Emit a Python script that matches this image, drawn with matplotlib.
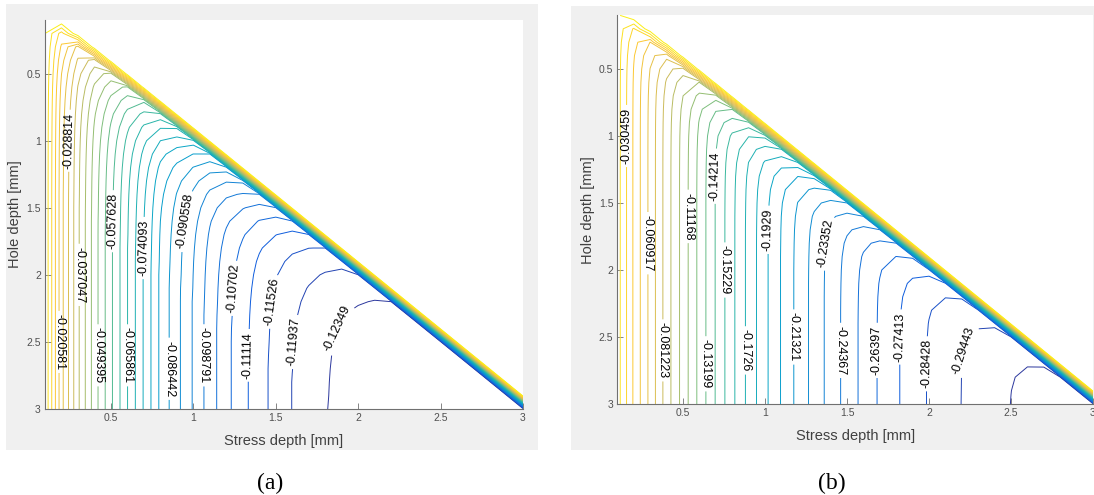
import numpy as np
import matplotlib
matplotlib.use("Agg")
import matplotlib.pyplot as plt
from matplotlib.colors import LinearSegmentedColormap
from matplotlib.patches import Rectangle
from matplotlib.ticker import FormatStrFormatter

plt.rcParams['font.family'] = ['Liberation Sans', 'DejaVu Sans']

# solver grid (mm), same for stress depth and hole depth
depth_nodes = [0.1, 0.2, 0.3, 0.4, 0.5, 0.6, 0.7, 0.8, 0.9, 1.0,
               1.1, 1.2, 1.3, 1.4, 1.5, 1.6, 1.7, 1.8, 1.9, 2.0,
               2.1, 2.2, 2.3, 2.4, 2.5, 2.6, 2.7, 2.8, 2.9, 3.0]
n_levels = 30

# ---- panel (a) ----
step_a = 0.004116285
# value for a deep hole (hole depth 3 mm), per stress depth node
deep_a = [-0.00473, -0.02334, -0.03622, -0.04734, -0.05680, -0.06578, -0.07451, -0.08315, -0.08932, -0.09509,
          -0.10085, -0.10579, -0.10991, -0.11361, -0.11670, -0.11946, -0.12143, -0.12328, -0.12472, -0.12575,
          -0.12645, -0.12690, -0.12719, -0.12736, -0.12748, -0.12754, -0.12758, -0.12761, -0.12761, -0.12761]
# value where hole depth == stress depth
diag_a = [-0.00370, -0.01400, -0.02593, -0.03499, -0.04281, -0.05022, -0.05680, -0.06298, -0.06936, -0.07615,
          -0.08315, -0.08871, -0.09385, -0.09941, -0.10414, -0.10846, -0.11217, -0.11534, -0.11814, -0.12020,
          -0.12225, -0.12369, -0.12501, -0.12596, -0.12653, -0.12695, -0.12719, -0.12736, -0.12748, -0.12752]
# blend from diag to deep, per 0.1 mm below the diagonal
falloff_a = [1.0, 0.67, 0.449, 0.301, 0.202, 0.135, 0.091, 0.061, 0.041, 0.027, 0.018, 0.012]
labels_a = [-0.020581, -0.028814, -0.037047, -0.049395, -0.057628, -0.065861, -0.074093, -0.086442,
            -0.090558, -0.098791, -0.10702, -0.11114, -0.11526, -0.11937, -0.12349]
label_spots_a = [(0.175, 2.5), (0.275, 1.0), (0.33, 1.95), (0.43, 2.6), (0.54, 1.56), (0.59, 2.6),
                 (0.71, 1.85), (0.85, 2.7), (1.0, 1.65), (1.05, 2.58), (1.28, 2.1), (1.33, 2.6),
                 (1.5, 2.24), (1.635, 2.52), (1.9, 2.45)]

# ---- panel (b) ----
step_b = 0.010152855
deep_b = [-0.01574, -0.04213, -0.06396, -0.08630, -0.10559, -0.12488, -0.14285, -0.15991, -0.17565, -0.19037,
          -0.20377, -0.21626, -0.22712, -0.23758, -0.24753, -0.25687, -0.26540, -0.27271, -0.27920, -0.28520,
          -0.28987, -0.29464, -0.29789, -0.30114, -0.30489, -0.30763, -0.30987, -0.31190, -0.31352, -0.31474]
diag_b = [-0.01218, -0.03158, -0.05097, -0.06843, -0.08630, -0.10173, -0.11716, -0.13178, -0.14620, -0.15991,
          -0.17412, -0.18742, -0.20042, -0.21250, -0.22387, -0.23453, -0.24458, -0.25403, -0.26286, -0.27047,
          -0.27727, -0.28327, -0.28844, -0.29311, -0.29687, -0.30012, -0.30378, -0.30682, -0.30916, -0.31129]
falloff_b = [1.0, 0.463, 0.215, 0.099, 0.046, 0.021, 0.01, 0.005]
labels_b = [-0.030459, -0.060917, -0.081223, -0.11168, -0.13199, -0.14214, -0.15229, -0.1726,
            -0.1929, -0.21321, -0.23352, -0.24367, -0.26397, -0.27413, -0.28428, -0.29443]
label_spots_b = [(0.165, 1.0), (0.285, 1.83), (0.375, 2.63), (0.555, 1.64), (0.635, 2.71), (0.77, 1.32),
                 (0.77, 2.0), (0.875, 2.62), (1.08, 1.71), (1.17, 2.5), (1.44, 1.83), (1.46, 2.62),
                 (1.7, 2.62), (1.855, 2.53), (2.01, 2.72), (2.27, 2.62)]

# approximation of MATLAB parula
parula = LinearSegmentedColormap.from_list(
    'parula', ['#352a87', '#0f5cdd', '#1481d6', '#06a4ca', '#2eb7a4',
               '#87bf77', '#d1bb59', '#fec832', '#f9fb0e'])


def build_field(deep, diag, falloff):
    x = np.array(depth_nodes)
    X, Y = np.meshgrid(x, x)
    steps = np.rint((Y - X) / 0.1).astype(int)
    fall = np.zeros(len(x))
    fall[:len(falloff)] = falloff
    w = fall[np.clip(steps, 0, len(x) - 1)]
    deep = np.array(deep)[None, :]
    diag = np.array(diag)[None, :]
    Z = deep + (diag - deep) * w
    Z[steps < 0] = 0.0   # stress depth beyond hole depth
    return X, Y, Z


def draw_panel(ax, deep, diag, falloff, step, labels, spots):
    ax.set_xlim(0.1, 3)
    ax.set_ylim(3, 0.1)

    X, Y, Z = build_field(deep, diag, falloff)
    levels = -step * np.arange(n_levels, 0, -1)
    cs = ax.contour(X, Y, Z, levels=levels, cmap=parula,
                    vmin=-step * (n_levels + 1), vmax=0, linewidths=0.7)

    # snap each label spot onto its own contour, then let clabel place it
    for val, spot in zip(labels, spots):
        k = int(round(-val / step))
        verts = cs.get_paths()[n_levels - k].vertices
        pix = ax.transData.transform(verts)
        target = ax.transData.transform(spot)
        j = np.argmin(((pix - target) ** 2).sum(axis=1))
        cs.clabel(manual=[tuple(verts[j])], fmt=lambda v: f"{v:.5g}",
                  fontsize=9, colors='k', inline_spacing=3)

    ax.set_xticks([0.5, 1, 1.5, 2, 2.5, 3])
    ax.set_yticks([0.5, 1, 1.5, 2, 2.5, 3])
    ax.xaxis.set_major_formatter(FormatStrFormatter('%g'))
    ax.yaxis.set_major_formatter(FormatStrFormatter('%g'))
    for side in ['top', 'right']:
        ax.spines[side].set_visible(False)
    for side in ['left', 'bottom']:
        ax.spines[side].set_color('#707070')
        ax.spines[side].set_linewidth(0.8)
    ax.tick_params(direction='in', length=4, width=0.6, colors='#707070',
                   labelcolor='#505050', labelsize=7.5, pad=3)
    ax.set_xlabel('Stress depth [mm]', fontsize=10.5, color='#404040')
    ax.set_ylabel('Hole depth [mm]', fontsize=10.5, color='#404040')
    ax.xaxis.set_label_coords(0.5, -0.064)
    ax.yaxis.set_label_coords(-0.048, 0.5)


W, H = 1094, 495
fig = plt.figure(figsize=(W / 100, H / 100), dpi=100)
fig.patch.set_facecolor('white')

# grey MATLAB figure backgrounds
fig.patches.append(Rectangle((6 / W, 1 - 450 / H), 532 / W, 446 / H, transform=fig.transFigure,
                             facecolor='#f0f0f0', edgecolor='none', zorder=-5))
fig.patches.append(Rectangle((571 / W, 1 - 450 / H), 523 / W, 444 / H, transform=fig.transFigure,
                             facecolor='#f0f0f0', edgecolor='none', zorder=-5))

ax_a = fig.add_axes([45 / W, 1 - 409 / H, 478 / W, 389 / H])
ax_b = fig.add_axes([617.4 / W, 1 - 404 / H, 475.6 / W, 388.6 / H])

draw_panel(ax_a, deep_a, diag_a, falloff_a, step_a, labels_a, label_spots_a)
draw_panel(ax_b, deep_b, diag_b, falloff_b, step_b, labels_b, label_spots_b)

fig.text(270 / W, 1 - 483 / H, '(a)', ha='center', va='center', fontsize=17,
         family=['Liberation Serif', 'DejaVu Serif'])
fig.text(832 / W, 1 - 483 / H, '(b)', ha='center', va='center', fontsize=17,
         family=['Liberation Serif', 'DejaVu Serif'])

fig.savefig('out.png', dpi=100)
